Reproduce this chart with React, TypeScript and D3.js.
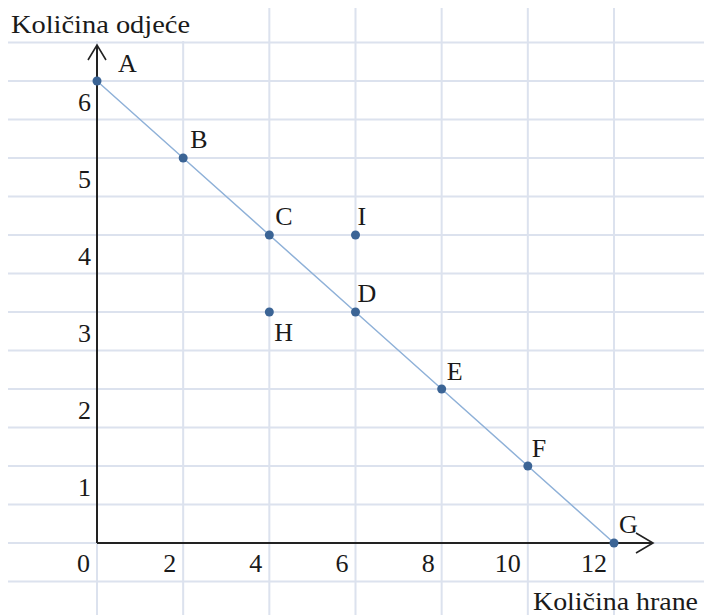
import * as d3 from "d3";

const W = 704;
const H = 615;

// production possibilities: food (x) vs clothes (y)
const pointNames = ["A", "B", "C", "D", "E", "F", "G", "H", "I"];
const foodQty = [0, 2, 4, 6, 8, 10, 12, 4, 6];
const clothesQty = [6, 5, 4, 3, 2, 1, 0, 3, 4];
const frontierNames = ["A", "B", "C", "D", "E", "F", "G"];

const xTicks = [0, 2, 4, 6, 8, 10, 12];
const yTicks = [0, 1, 2, 3, 4, 5, 6];

const xTitle = "Količina hrane";
const yTitle = "Količina odjeće";

const FONT = "Liberation Serif, Times New Roman, serif";
const FS = 26;
const GRID = "#dce2ee";
const LINE = "#8fb1d8";
const DOT = "#3b6495";
const TXT = "#1a1a1a";

// label offsets relative to the dot (dx, dy of the baseline-left corner)
const labelOffset: Record<string, [number, number]> = {
  A: [21, -9],
  B: [7, -10],
  C: [6, -10],
  D: [2, -10],
  E: [5, -9],
  F: [4, -9],
  G: [5, -10],
  H: [5, 29],
  I: [2, -10],
};

export default function App() {
  const x = d3.scaleLinear().domain([0, 12]).range([97, 614]);
  const y = d3.scaleLinear().domain([0, 6]).range([543, 81]);

  const vGrid = d3.range(0, 13, 2);
  const hGrid = d3.range(-0.5, 6.51, 0.5);

  const pts = pointNames.map((n, i) => ({ name: n, fx: foodQty[i], cy: clothesQty[i] }));
  const frontier = pts.filter((p) => frontierNames.includes(p.name));
  const line = d3
    .line<{ fx: number; cy: number }>()
    .x((d) => x(d.fx))
    .y((d) => y(d.cy));

  const x0 = x(0);
  const y0 = y(0);
  const axisTop = 45;
  const axisRight = 653;

  return (
    <svg
      width={W}
      height={H}
      viewBox={`0 0 ${W} ${H}`}
      style={{ position: "absolute", left: 0, top: 0, background: "#fff" }}
    >
      <rect width={W} height={H} fill="#fff" />
      {/* grid */}
      {vGrid.map((v) => (
        <line key={"v" + v} x1={x(v)} x2={x(v)} y1={8} y2={H} stroke={GRID} strokeWidth={2} />
      ))}
      {hGrid.map((v) => (
        <line key={"h" + v} x1={8} x2={W} y1={y(v)} y2={y(v)} stroke={GRID} strokeWidth={2} />
      ))}

      {/* y title with white backing */}
      <rect x={8} y={8} width={190} height={33} fill="#fff" />
      <text x={11} y={33} fontFamily={FONT} fontSize={FS} fill={TXT} textLength={179} lengthAdjust="spacingAndGlyphs">
        {yTitle}
      </text>

      {/* axes */}
      <line x1={x0} x2={x0} y1={axisTop} y2={y0} stroke="#222" strokeWidth={2} />
      <line x1={x0} x2={axisRight} y1={y0} y2={y0} stroke="#222" strokeWidth={2} />
      <polyline
        points={`${x0 - 9},${axisTop + 15} ${x0},${axisTop} ${x0 + 9},${axisTop + 15}`}
        fill="none"
        stroke="#222"
        strokeWidth={1.6}
      />
      <polyline
        points={`${axisRight - 17},${y0 - 10} ${axisRight},${y0} ${axisRight - 17},${y0 + 10}`}
        fill="none"
        stroke="#222"
        strokeWidth={1.6}
      />

      {/* ticks */}
      {yTicks.filter((t) => t > 0).map((t) => (
        <text key={"yt" + t} x={x0 - 6} y={y(t) + 30} textAnchor="end" fontFamily={FONT} fontSize={FS} fill={TXT}>
          {t}
        </text>
      ))}
      {xTicks.map((t) => (
        <text key={"xt" + t} x={x(t) - 7} y={y0 + 29} textAnchor="end" fontFamily={FONT} fontSize={FS} fill={TXT}>
          {t}
        </text>
      ))}

      {/* frontier */}
      <path d={line(frontier) ?? ""} fill="none" stroke={LINE} strokeWidth={1.5} />
      {pts.map((p) => (
        <g key={p.name}>
          <circle cx={x(p.fx)} cy={y(p.cy)} r={4.5} fill={DOT} />
          <text
            x={x(p.fx) + labelOffset[p.name][0]}
            y={y(p.cy) + labelOffset[p.name][1]}
            fontFamily={FONT}
            fontSize={FS}
            fill={TXT}
          >
            {p.name}
          </text>
        </g>
      ))}

      {/* x title */}
      <text x={533} y={610} fontFamily={FONT} fontSize={FS} fill={TXT} textLength={165} lengthAdjust="spacingAndGlyphs">
        {xTitle}
      </text>
    </svg>
  );
}
